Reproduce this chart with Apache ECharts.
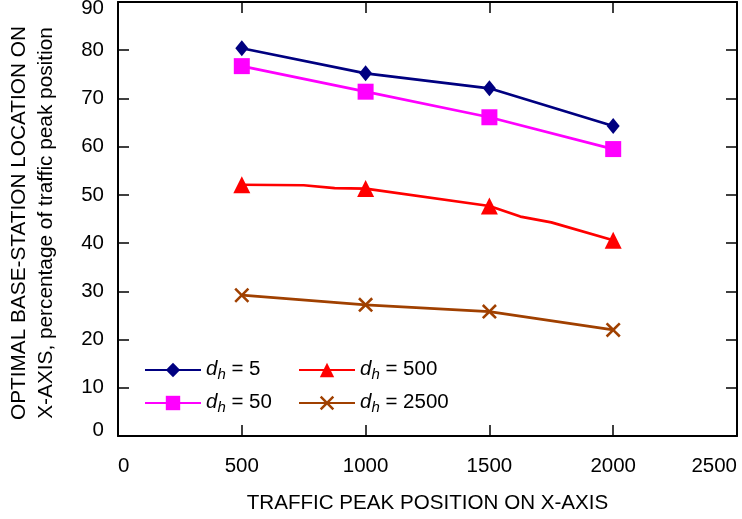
<!DOCTYPE html>
<html><head><meta charset="utf-8">
<script src="https://cdn.jsdelivr.net/npm/echarts@6/dist/echarts.min.js"></script>
<style>html,body{margin:0;padding:0;background:#fff}#c{width:742px;height:519px}</style>
</head><body><div id="c"></div><script>
// ---- data ----
const xMin = 0, xMax = 2500, xStep = 500;
const yMin = 0, yMax = 90, yStep = 10;
const markerX = [500, 1000, 1500, 2000];

const dh5X = [500, 1000, 1500, 2000];
const dh5Y = [80.4, 75.2, 72.1, 64.3];

const dh50X = [500, 1000, 1500, 2000];
const dh50Y = [76.7, 71.4, 66.1, 59.5];

const dh500X = [500, 750, 875, 1000, 1500, 1625, 1750, 2000];
const dh500Y = [52.1, 52.0, 51.4, 51.3, 47.7, 45.5, 44.3, 40.6];

const dh2500X = [500, 1000, 1500, 2000];
const dh2500Y = [29.2, 27.2, 25.8, 22.0];

const seriesNames = ['dh5', 'dh50', 'dh500', 'dh2500'];
const legendValues = { dh5: '5', dh50: '50', dh500: '500', dh2500: '2500' };

const xTitle = 'TRAFFIC PEAK POSITION ON X-AXIS';
const yTitle = 'OPTIMAL BASE-STATION LOCATION ON\nX-AXIS, percentage of traffic peak position';

// ---- build ----
const FONT = 'Liberation Sans, Arial, Helvetica, sans-serif';
const xShape = 'path://M0,1.2L1.2,0L5,3.8L8.8,0L10,1.2L6.2,5L10,8.8L8.8,10L5,6.2L1.2,10L0,8.8L3.8,5Z';

function pts(xs, ys) {
  return xs.map((x, i) => markerX.includes(x) ? [x, ys[i]] : { value: [x, ys[i]], symbol: 'none' });
}
function mk(name, xs, ys, color, symbol, size) {
  return {
    name, type: 'line', data: pts(xs, ys), xAxisIndex: 0, yAxisIndex: 0,
    symbol, symbolSize: size, showAllSymbol: true,
    lineStyle: { color, width: 2.7 },
    itemStyle: { color, opacity: 1 },
    emphasis: { disabled: true }, animation: false, z: 3
  };
}

const axisCommon = {
  axisLine: { show: true, onZero: false, lineStyle: { color: '#000', width: 2 } },
  axisTick: { show: true, inside: true, length: 11, lineStyle: { color: '#000', width: 1.5 } },
  splitLine: { show: false }
};

const legendRich = {
  i: { fontStyle: 'italic', fontSize: 20.5, fontFamily: FONT, color: '#000', lineHeight: 26, verticalAlign: 'top', padding: [2, 0, 0, 0] },
  s: { fontStyle: 'italic', fontSize: 15, fontFamily: FONT, color: '#000', verticalAlign: 'top', lineHeight: 12, padding: [10, 0, 0, 0] },
  t: { fontSize: 20.5, fontFamily: FONT, color: '#000', lineHeight: 26, verticalAlign: 'top', padding: [2, 0, 0, 0] }
};
function legendFmt(n) { return '{i|d}{s|h}{t| = ' + legendValues[n] + '}'; }
const legendCommon = {
  orient: 'vertical', itemWidth: 56, itemHeight: 18, itemGap: 8, padding: 0,
  formatter: legendFmt, textStyle: { rich: legendRich }, selectedMode: false
};

const tickFont = { fontSize: 20.5, fontFamily: FONT, color: '#000' };

const option = {
  backgroundColor: '#fff',
  animation: false,
  grid: { left: 118, right: 5, top: 2, bottom: 83, outerBoundsMode: 'none', containLabel: false },
  xAxis: [
    Object.assign({}, axisCommon, {
      type: 'value', min: xMin, max: xMax, interval: xStep, position: 'bottom',
      name: xTitle, nameLocation: 'middle', nameGap: 57,
      nameTextStyle: { fontSize: 20.6, fontFamily: FONT, color: '#000' },
      axisLabel: Object.assign({}, tickFont, { margin: 20, alignMinLabel: 'left', alignMaxLabel: 'right', formatter: v => String(v) })
    }),
    Object.assign({}, axisCommon, {
      type: 'value', min: xMin, max: xMax, interval: xStep, position: 'top',
      axisLabel: { show: false }
    })
  ],
  yAxis: [
    Object.assign({}, axisCommon, {
      type: 'value', min: yMin, max: yMax, interval: yStep, position: 'left',
      name: yTitle, nameLocation: 'middle', nameGap: 58, nameRotate: 90,
      nameTextStyle: { fontSize: 20.8, fontFamily: FONT, color: '#000', lineHeight: 27, align: 'center', padding: [0, 8, 0, 0] },
      axisLabel: Object.assign({}, tickFont, {
        margin: 14,
        formatter: v => v === yMax ? '{a|' + v + '}' : (v === yMin ? '{b|' + v + '}' : String(v)),
        rich: {
          a: Object.assign({}, tickFont, { padding: [12, 0, 0, 0] }),
          b: Object.assign({}, tickFont, { padding: [0, 0, 12, 0] })
        }
      })
    }),
    Object.assign({}, axisCommon, {
      type: 'value', min: yMin, max: yMax, interval: yStep, position: 'right',
      axisLabel: { show: false }
    })
  ],
  legend: [
    Object.assign({}, legendCommon, { left: 144, top: 357, data: ['dh5', 'dh50'] }),
    Object.assign({}, legendCommon, { left: 298, top: 357, data: ['dh500', 'dh2500'] })
  ],
  series: [
    mk('dh5', dh5X, dh5Y, '#000080', 'diamond', [13, 16]),
    mk('dh50', dh50X, dh50Y, '#ff00ff', 'rect', 16),
    mk('dh500', dh500X, dh500Y, '#ff0000', 'triangle', 17),
    mk('dh2500', dh2500X, dh2500Y, '#a04000', xShape, 15)
  ]
};
const chart = echarts.init(document.getElementById('c'), null, { renderer: 'canvas' });
chart.setOption(option);
</script></body></html>
